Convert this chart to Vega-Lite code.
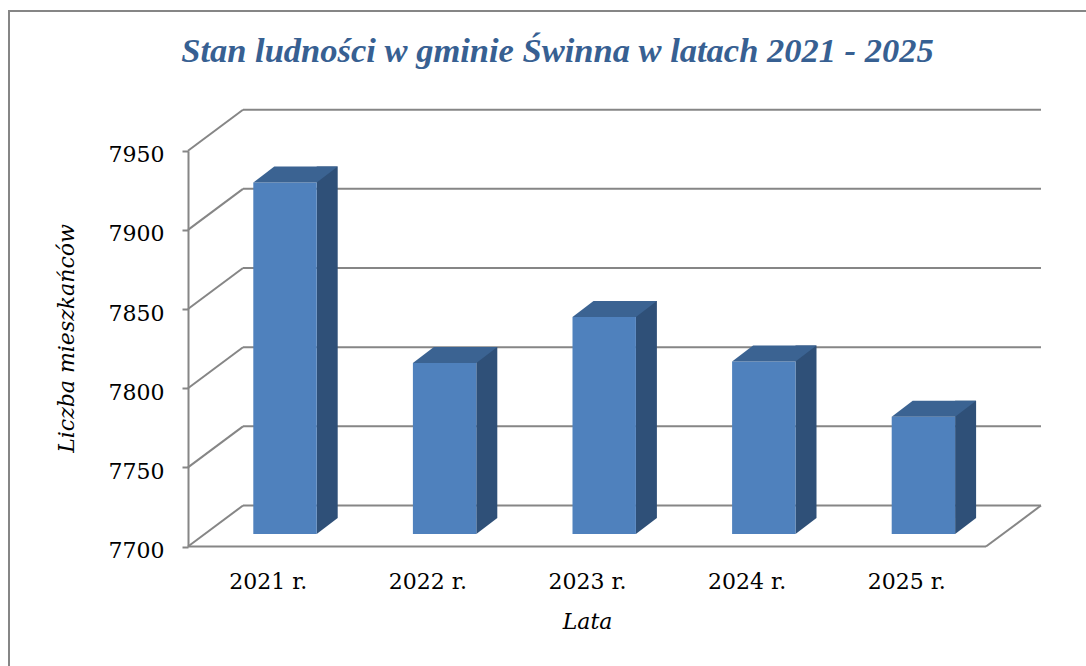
{
  "$schema": "https://vega.github.io/schema/vega-lite/v6.json",
  "width": 1097,
  "height": 675,
  "autosize": {"type": "none"},
  "padding": {"left": 9, "top": 11, "right": -20, "bottom": -20},
  "background": "white",
  "config": {
    "view": {"stroke": "#868686", "strokeWidth": 2},
    "font": "DejaVu Serif"
  },
  "title": {
    "text": "Stan ludności w gminie Świnna w latach 2021 - 2025",
    "font": "Liberation Serif",
    "fontSize": 34.5,
    "fontStyle": "italic",
    "fontWeight": "bold",
    "color": "#376092",
    "anchor": "middle",
    "frame": "group",
    "baseline": "alphabetic",
    "offset": -85
  },
  "datasets": {
    "bars": [
      {"rok": 2021, "liczba": 7922},
      {"rok": 2022, "liczba": 7808},
      {"rok": 2023, "liczba": 7837},
      {"rok": 2024, "liczba": 7809},
      {"rok": 2025, "liczba": 7774}
    ],
    "grid": [
      {"v": 7700}, {"v": 7750}, {"v": 7800}, {"v": 7850}, {"v": 7900}, {"v": 7950}
    ],
    "floor": [{"krawedz": "podloga"}]
  },
  "layer": [
    {
      "data": {"name": "bars"},
      "mark": {"type": "rect", "color": "#4f81bd", "xOffset": -14.5, "x2Offset": 48.9, "yOffset": -12.5, "y2Offset": -12.5, "opacity": 0},
      "encoding": {
        "x": {
          "field": "rok", "type": "quantitative",
          "scale": {"domain": [2020.5, 2025.5], "range": [179, 977], "nice": false, "zero": false},
          "axis": {
            "values": [2021, 2022, 2023, 2024, 2025],
            "labelExpr": "datum.value + ' r.'",
            "offset": -139.5,
            "domain": false, "ticks": false, "tickSize": 0, "grid": false,
            "labelPadding": 25, "labelFont": "DejaVu Serif", "labelFontSize": 22, "labelColor": "#000000",
            "labelFlush": false, "labelOverlap": false,
            "title": "Lata", "titleFont": "DejaVu Serif", "titleFontSize": 22, "titleFontStyle": "italic",
            "titleFontWeight": "normal", "titleColor": "#000000", "titleBaseline": "alphabetic", "titleY": 82
          }
        },
        "x2": {"field": "rok"},
        "y": {
          "field": "liczba", "type": "quantitative",
          "scale": {"domain": [7700, 7950], "range": [535.5, 139.7], "nice": false, "zero": false},
          "axis": {
            "values": [7700, 7750, 7800, 7850, 7900, 7950],
            "format": "d",
            "offset": -179,
            "domain": true, "domainColor": "#868686", "domainWidth": 2,
            "ticks": true, "tickSize": 6, "tickColor": "#868686", "tickWidth": 2, "grid": false,
            "labelPadding": 18, "labelFont": "DejaVu Serif", "labelFontSize": 22, "labelColor": "#000000",
            "labelOffset": 4, "labelFlush": false, "labelOverlap": false,
            "title": "Liczba mieszkańców", "titleFont": "DejaVu Serif", "titleFontSize": 22, "titleFontStyle": "italic",
            "titleFontWeight": "normal", "titleColor": "#000000", "titleBaseline": "alphabetic",
            "titleAngle": 270, "titleX": -115, "titleY": 327
          }
        },
        "y2": {"datum": 7700}
      }
    },
    {
      "data": {"name": "grid"},
      "mark": {"type": "rule", "color": "#868686", "strokeWidth": 2, "xOffset": 55, "x2Offset": 55, "yOffset": -41},
      "encoding": {
        "x": {"datum": 2020.5, "type": "quantitative"},
        "x2": {"datum": 2025.5},
        "y": {"field": "v", "type": "quantitative"}
      }
    },
    {
      "data": {"name": "grid"},
      "mark": {"type": "rule", "color": "#868686", "strokeWidth": 2, "x2Offset": 55, "y2Offset": -41},
      "encoding": {
        "x": {"datum": 2020.5, "type": "quantitative"},
        "x2": {"datum": 2020.5},
        "y": {"field": "v", "type": "quantitative"},
        "y2": {"field": "v"}
      }
    },
    {
      "data": {"name": "floor"},
      "mark": {"type": "rule", "color": "#868686", "strokeWidth": 2},
      "encoding": {
        "x": {"datum": 2020.5, "type": "quantitative"},
        "x2": {"datum": 2025.5},
        "y": {"datum": 7700, "type": "quantitative"}
      }
    },
    {
      "data": {"name": "floor"},
      "mark": {"type": "rule", "color": "#868686", "strokeWidth": 2, "x2Offset": 55, "y2Offset": -41},
      "encoding": {
        "x": {"datum": 2025.5, "type": "quantitative"},
        "x2": {"datum": 2025.5},
        "y": {"datum": 7700, "type": "quantitative"},
        "y2": {"datum": 7700}
      }
    },
    {
      "data": {"name": "bars"},
      "mark": {"type": "rect", "color": "#2f5078", "xOffset": 48.9, "x2Offset": 69.9, "yOffset": -28.5, "y2Offset": -28.5},
      "encoding": {
        "x": {"field": "rok", "type": "quantitative"},
        "x2": {"field": "rok"},
        "y": {"field": "liczba", "type": "quantitative"},
        "y2": {"datum": 7700}
      }
    },
    {
      "data": {"name": "bars"},
      "mark": {"type": "point", "shape": "M0,0L0,-16L21,-16Z", "size": 4, "filled": true, "opacity": 1, "strokeWidth": 0, "color": "#2f5078", "xOffset": 48.9, "yOffset": -12.5},
      "encoding": {
        "x": {"field": "rok", "type": "quantitative"},
        "y": {"datum": 7700, "type": "quantitative"}
      }
    },
    {
      "data": {"name": "bars"},
      "mark": {"type": "rect", "color": "#4f81bd", "xOffset": -14.5, "x2Offset": 48.9, "yOffset": -12.5, "y2Offset": -12.5},
      "encoding": {
        "x": {"field": "rok", "type": "quantitative"},
        "x2": {"field": "rok"},
        "y": {"field": "liczba", "type": "quantitative"},
        "y2": {"datum": 7700}
      }
    },
    {
      "data": {"name": "bars"},
      "mark": {"type": "point", "shape": "M0,0L63.4,0L84.4,-16L21,-16Z", "size": 4, "filled": true, "opacity": 1, "strokeWidth": 0, "color": "#3b6392", "xOffset": -14.5, "yOffset": -12.5},
      "encoding": {
        "x": {"field": "rok", "type": "quantitative"},
        "y": {"field": "liczba", "type": "quantitative"}
      }
    }
  ]
}
